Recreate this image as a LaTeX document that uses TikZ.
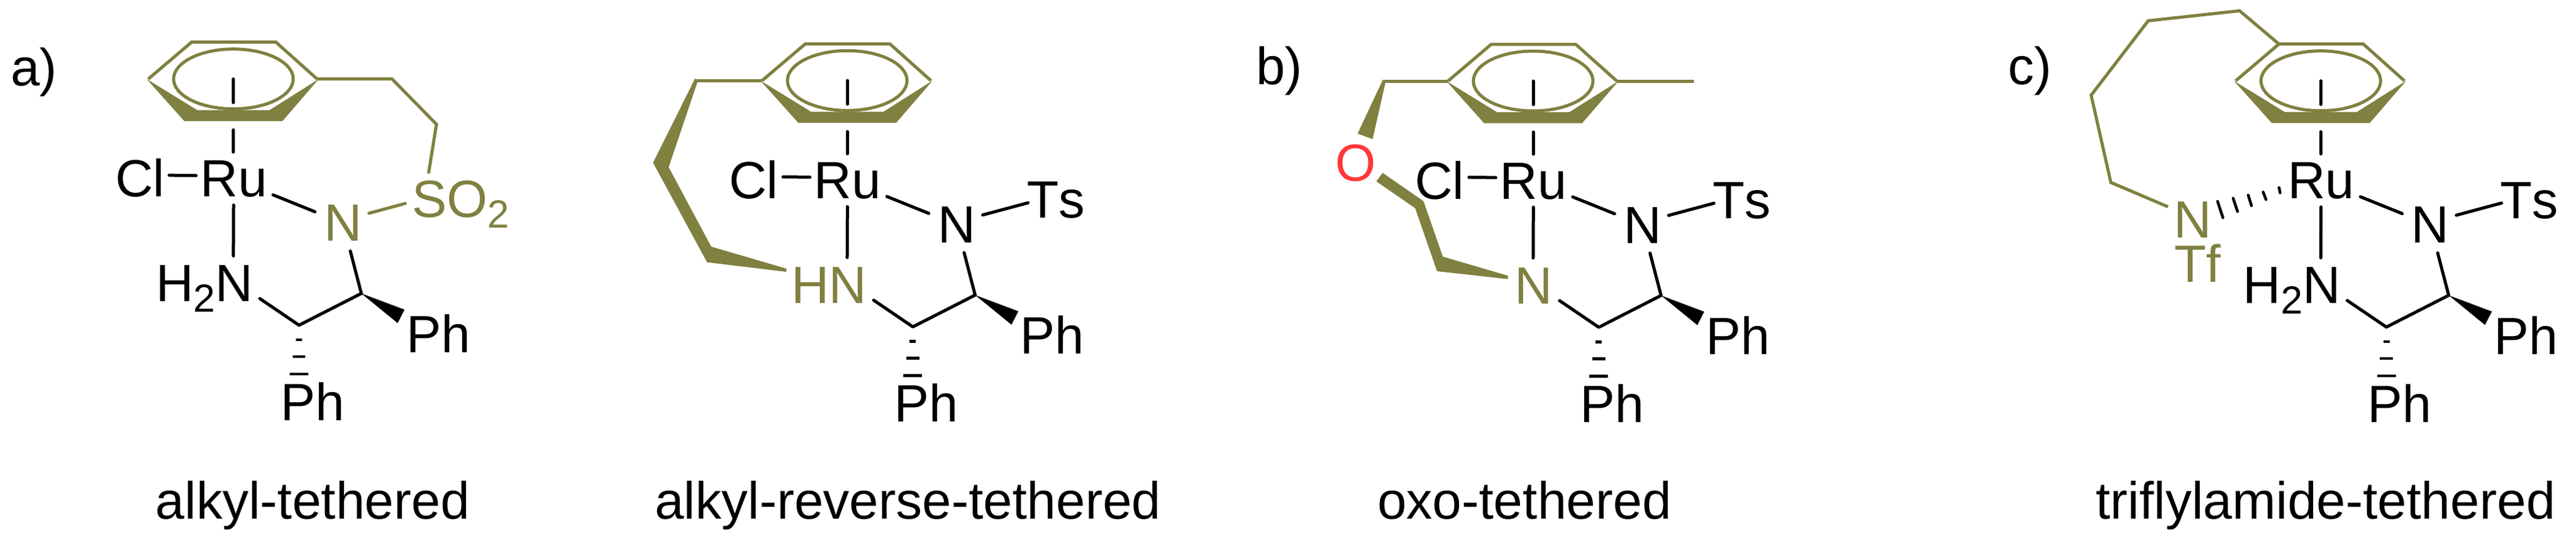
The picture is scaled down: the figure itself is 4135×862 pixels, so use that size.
\documentclass[tikz,border=0pt]{standalone}
\usepackage{fontspec}
\setmainfont[Ligatures=NoCommon,Kerning=Off]{Liberation Sans}
\definecolor{tetherc}{HTML}{808040}
\definecolor{oxyc}{HTML}{FF3838}
\newcommand{\chemfont}{\fontsize{84}{92}\selectfont}
\newcommand{\subtwo}{\raisebox{-17.5pt}{\fontsize{63}{63}\selectfont 2}}
\tikzset{
  atom/.style={anchor=base west,inner sep=0pt,outer sep=0pt,font=\chemfont,text=black},
  olive atom/.style={atom,text=tetherc},
  bond/.style={line width=5pt,line cap=round,line join=round,draw=black},
  hashbar/.style={line width=4.7pt,draw=black},
  tetherline/.style={line width=5pt,line join=miter,draw=tetherc},
  tetherfill/.style={fill=tetherc,draw=none},
  tag/.style={anchor=base west,inner sep=0pt,font=\chemfont}
}
% shared part of each complex, in the frame of the first one; #1 = colour of the sulfonamide N
\newcommand{\complexcore}[1]{
  \coordinate (ringc) at (374.7,126.7);
  \coordinate (ringa) at (374.7,164.5);
  \coordinate (ringb) at (374.7,208.5);
  \coordinate (vL) at (238,126.7);
  \coordinate (vTL) at (307.5,67.7);
  \coordinate (vTR) at (443,67.7);
  \coordinate (vR) at (509,126.7);
  \coordinate (n2) at (374.5,450);
  \coordinate (c1) at (480,521.7);
  \coordinate (c2) at (580,470.7);
  \fill[tetherfill] (235.3,126.7) -- (296,194.3) -- (453.3,194.3) -- (511.7,126.7) -- (432.7,176.7) -- (316.7,176.7) -- cycle;
  \draw[tetherline] (vL) -- (vTL) -- (vTR) -- (vR);
  \draw[tetherc,line width=5pt] (ringc) ellipse [x radius=96,y radius=48];
  \node[atom] (Ru) at (321.5,315.7) {Ru};
  \node[atom,text=#1] (N) at (520.3,386.7) {N};
  \node[atom] (PhR) at (652.5,565) {Ph};
  \node[atom] (PhB) at (450,674.3) {Ph};
  \draw[bond] (ringc) -- (ringa);
  \draw[bond,shorten >=43.3pt] (ringb) -- (ringb |- Ru.center);
  \draw[bond,shorten <=68pt,shorten >=48.7pt] (Ru.center) -- (N.center);
  \draw[bond,shorten <=41.7pt,shorten >=39.5pt] (Ru.center) -- (n2);
  \draw[bond,shorten <=46.4pt] (N.center) -- (c2);
  \draw[bond,shorten <=51.5pt] (n2) -- (c1) -- (c2);
  \fill[black] (c2) -- ++(69.3,26) -- ++(-11,21.6) -- cycle;
  \draw[hashbar] (475,545) -- (485,545);
  \draw[hashbar] (469.6,572) -- (490.4,572);
  \draw[hashbar] (465,600) -- (495,600);
}
\newcommand{\clbond}{
  \node[atom] (Cl) at (185,315.7) {Cl};
  \draw[bond,shorten <=47pt,shorten >=60.4pt] ([yshift=5pt]Cl.center) -- ([yshift=5pt]Ru.center);
}
\newcommand{\tsgroup}{
  \node[atom] (Ts) at (662.7,347.3) {Ts};
  \draw[bond,shorten <=43pt,shorten >=46pt] ([yshift=4.5pt]N.center) -- ([yshift=8pt]Ts.center);
}
\begin{document}
\begin{tikzpicture}[x=1pt,y=-1pt]
\useasboundingbox (0,0) rectangle (4135,862);

% --- a) alkyl-tethered
\begin{scope}[name prefix=a-]
  \complexcore{tetherc}
  \clbond
  \node[atom] (H2N) at (250,483.3) {H\subtwo N};
  \node[olive atom] (SO2) at (661,348) {SO\subtwo};
  \draw[bond,tetherc,shorten <=43.3pt,shorten >=92pt] ([yshift=4.5pt]N.center) -- ([yshift=25pt]SO2.center);
  \coordinate (t1) at (629.3,126.7);
  \coordinate (t2) at (700.6,199.4);
  \coordinate (t3) at (687.9,278.2);
  \draw[tetherline] (vR) -- (t1) -- (t2) -- (t3);
\end{scope}
\node[tag] (taga) at (17,137.7) {a)};
\node[tag] (capa) at (249.7,832) {alkyl-tethered};

% --- alkyl-reverse-tethered
\begin{scope}[shift={(985.3,2.6)},name prefix=b-]
  \complexcore{black}
  \clbond
  \tsgroup
  \node[olive atom] (HN) at (285,484.1) {HN};
  \coordinate (t1) at (131.4,126.7);
  \draw[tetherline] (vL) -- (t1);
  \fill[tetherfill] (130.4,123.4) -- (63,258.4) -- (149.7,418.1) -- (276.4,433.4) -- (277.4,428.4) -- (156.4,393.1) -- (88,265.7) -- (134.7,127.4) -- cycle;
\end{scope}
\node[tag] (capb) at (1051,832) {alkyl-reverse-tethered};

% --- b) oxo-tethered
\begin{scope}[shift={(2086.3,3.3)},name prefix=c-]
  \complexcore{black}
  \clbond
  \tsgroup
  \node[olive atom] (N2) at (345,484.4) {N};
  \node[atom,text=oxyc] (O) at (57,287.4) {O};
  \coordinate (t1) at (135.4,126.7);
  \coordinate (me) at (632.2,126.7);
  \draw[tetherline] (vL) -- (t1);
  \draw[tetherline] (vR) -- (me);
  \fill[tetherfill] (133.7,124) -- (137.7,128.7) -- (117,220) -- (93,211) -- cycle;
  \fill[tetherfill] (133,274) -- (123,287.7) -- (185.4,330.7) -- (220.4,431.7) -- (334.4,444.4) -- (334.4,439) -- (229.7,408.4) -- (198.7,319.4) -- cycle;
\end{scope}
\node[tag] (tagb) at (2016,135) {b)};
\node[tag] (capc) at (2211,832) {oxo-tethered};

% --- c) triflylamide-tethered
\begin{scope}[shift={(3350.6,3)},name prefix=d-]
  \complexcore{black}
  \tsgroup
  \node[atom] (H2N) at (250,483.3) {H\subtwo N};
  \node[olive atom] (N2) at (139.2,378.7) {N};
  \node[olive atom] (Tf) at (140,449.3) {Tf};
  \coordinate (t1) at (244.4,14.3);
  \coordinate (t2) at (97.7,30.3);
  \coordinate (t3) at (6.1,149.7);
  \coordinate (t4) at (37.7,289.7);
  \coordinate (t5) at (129.4,328.7);
  \draw[tetherline] (vTL) -- (t1) -- (t2) -- (t3) -- (t4) -- (t5);
  \draw[bond,line width=4.5pt] (307.7,298) -- (309.4,306.3);
  \draw[bond,line width=4.5pt] (282.1,305) -- (286.7,317);
  \draw[bond,line width=4.5pt] (258.2,310) -- (263.4,327);
  \draw[bond,line width=4.5pt] (234,315) -- (241.1,336.3);
  \draw[bond,line width=4.5pt] (209,320) -- (217.7,346.3);
\end{scope}
\node[tag] (tagc) at (3223,135) {c)};
\node[tag] (capd) at (3364,832) {triflylamide-tethered};
\end{tikzpicture}
\end{document}
